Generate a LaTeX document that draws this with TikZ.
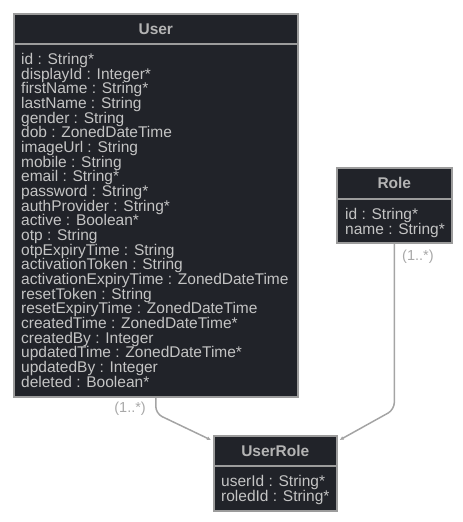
\documentclass[tikz,border=0pt]{standalone}
\usepackage{fontspec}
\setmainfont{Liberation Sans}
\usetikzlibrary{arrows.meta,calc}
\definecolor{boxfill}{HTML}{212329}
\definecolor{boxline}{HTML}{9C9C9C}
\definecolor{txt}{HTML}{C4C4C4}
\definecolor{hdrtxt}{HTML}{B4B4B4}
\definecolor{lbl}{HTML}{A8A8A8}
\definecolor{conncol}{HTML}{A4A4A4}
\tikzset{
  box/.style={draw=boxline, line width=1.6pt, fill=boxfill, rectangle, inner sep=0pt, anchor=north west},
  hdr/.style={text=hdrtxt, font=\fontsize{15.5}{15.5}\selectfont\bfseries, inner sep=0pt},
  fields/.style={text=txt, font=\fontsize{15.5}{14.67}\selectfont, align=left, inner sep=0pt, anchor=north west},
  conn/.style={draw=conncol, line width=1.5pt, rounded corners=7pt, -{Latex[length=4pt,width=4pt]}},
  mult/.style={text=lbl, font=\fontsize{14.5}{14.5}\selectfont, inner sep=0pt}
}
\begin{document}
\begin{tikzpicture}[x=1pt,y=-1pt]
\useasboundingbox (0,0) rectangle (463,522);
% User
\node[box, minimum width=284pt, minimum height=30pt] (userh) at (13,13) {};
\node[box, minimum width=284pt, minimum height=353pt] (userb) at (13,43) {};
\node[hdr] (usern) at (userh.center) {User};
\node[fields] (usert) at (21,53) {id : String*\\displayId : Integer*\\firstName : String*\\lastName : String\\gender : String\\dob : ZonedDateTime\\imageUrl : String\\mobile : String\\email : String*\\password : String*\\authProvider : String*\\active : Boolean*\\otp : String\\otpExpiryTime : String\\activationToken : String\\activationExpiryTime : ZonedDateTime\\resetToken : String\\resetExpiryTime : ZonedDateTime\\createdTime : ZonedDateTime*\\createdBy : Integer\\updatedTime : ZonedDateTime*\\updatedBy : Integer\\deleted : Boolean*};
% Role
\node[box, minimum width=115pt, minimum height=31pt] (roleh) at (336,167) {};
\node[box, minimum width=115pt, minimum height=44pt] (roleb) at (336,198) {};
\node[hdr] (rolen) at (roleh.center) {Role};
\node[fields] (rolet) at (345,208) {id : String*\\name : String*};
% UserRole
\node[box, minimum width=123pt, minimum height=30pt] (urh) at (213,435) {};
\node[box, minimum width=123pt, minimum height=45pt] (urb) at (213,465) {};
\node[hdr] (urn) at (urh.center) {UserRole};
\node[fields] (urt) at (221,475) {userId : String*\\roledId : String*};
% connectors
\coordinate (urL) at ($(urh.north west)+(-2,5)$);
\coordinate (urR) at ($(urh.north east)+(2,5)$);
\draw[conn] (userb.south) -- ([yshift=-16pt]userb.south) -- (urL);
\draw[conn] (roleb.south) -- ([yshift=-166pt]roleb.south) -- (urR);
\node[mult, anchor=east] (m1) at (146,409) {(1..*)};
\node[mult, anchor=west] (m2) at (402,257) {(1..*)};
\end{tikzpicture}
\end{document}
